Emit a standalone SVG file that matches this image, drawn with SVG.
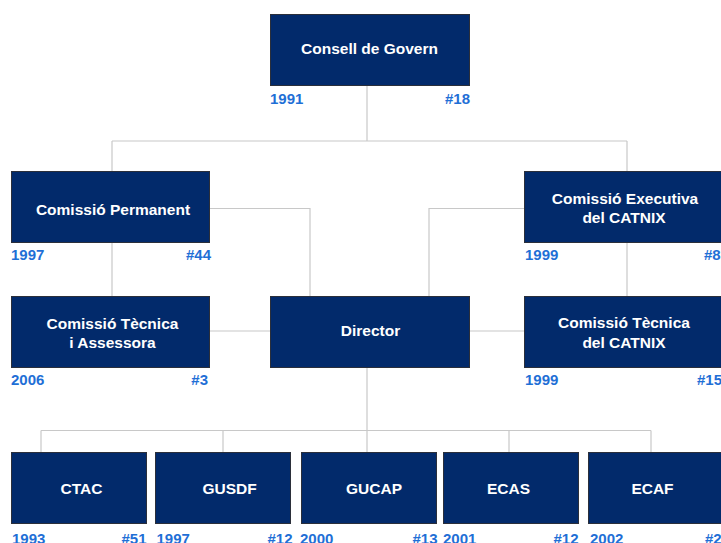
<svg xmlns="http://www.w3.org/2000/svg" width="721" height="543" viewBox="0 0 721 543">
<style>
.box{fill:#022a6b;stroke:#2b2f3a;stroke-width:1}
.t{font-family:"Liberation Sans",Arial,sans-serif;font-size:15.5px;font-weight:bold;fill:#ffffff;text-anchor:middle}
.y{font-family:"Liberation Sans",Arial,sans-serif;font-size:15px;font-weight:bold;fill:#1f6fd6}
.r{text-anchor:end}
.c{fill:none;stroke:#c8c8c8;stroke-width:1.2}
</style>
<rect width="721" height="543" fill="#ffffff"/>
<g id="connectors">
<path class="c" d="M367 85V141M112 141H627M112 141V171M627 141V171"/>
<path class="c" d="M112 242V296M209 208.5H310V296M209 331H270"/>
<path class="c" d="M524 208.5H429V296M627 242V296M469 331H524"/>
<path class="c" d="M367 367V430.5M41 430.5H651M41 430.5V452M223 430.5V452M367 430.5V452M509 430.5V452M651 430.5V452"/>
</g>
<g id="consell">
<rect class="box" x="270.5" y="14.5" width="199" height="71"/>
<text class="t" x="369.5" y="54">Consell de Govern</text>
<text class="y" x="270" y="104">1991</text>
<text class="y r" x="470" y="104">#18</text>
</g>
<g id="permanent">
<rect class="box" x="11.5" y="171.5" width="198" height="71"/>
<text class="t" x="113" y="215">Comissió Permanent</text>
<text class="y" x="11" y="260">1997</text>
<text class="y r" x="211" y="260">#44</text>
</g>
<g id="executiva">
<rect class="box" x="524.5" y="171.5" width="199" height="71"/>
<text class="t" x="625" y="204">Comissió Executiva</text>
<text class="t" x="624" y="223">del CATNIX</text>
<text class="y" x="525" y="260">1999</text>
<text class="y" x="704" y="260">#8</text>
</g>
<g id="tecnica-assessora">
<rect class="box" x="11.5" y="296.5" width="198" height="71"/>
<text class="t" x="112.5" y="329">Comissió Tècnica</text>
<text class="t" x="112.5" y="348">i Assessora</text>
<text class="y" x="11" y="385">2006</text>
<text class="y r" x="208" y="385">#3</text>
</g>
<g id="director">
<rect class="box" x="270.5" y="296.5" width="199" height="71"/>
<text class="t" x="370.5" y="336">Director</text>
</g>
<g id="tecnica-catnix">
<rect class="box" x="524.5" y="296.5" width="199" height="71"/>
<text class="t" x="624" y="328">Comissió Tècnica</text>
<text class="t" x="624" y="347.5">del CATNIX</text>
<text class="y" x="525" y="385">1999</text>
<text class="y" x="697" y="385">#15</text>
</g>
<g id="ctac">
<rect class="box" x="11.5" y="452.5" width="135" height="71"/>
<text class="t" x="81.5" y="494">CTAC</text>
<text class="y" x="12" y="543.5">1993</text>
<text class="y r" x="146.5" y="543.5">#51</text>
</g>
<g id="gusdf">
<rect class="box" x="155.5" y="452.5" width="135" height="71"/>
<text class="t" x="229.5" y="494">GUSDF</text>
<text class="y" x="156.5" y="543.5">1997</text>
<text class="y r" x="292.5" y="543.5">#12</text>
</g>
<g id="gucap">
<rect class="box" x="301.5" y="452.5" width="135" height="71"/>
<text class="t" x="374" y="494">GUCAP</text>
<text class="y" x="300" y="543.5">2000</text>
<text class="y r" x="437.5" y="543.5">#13</text>
</g>
<g id="ecas">
<rect class="box" x="443.5" y="452.5" width="135" height="71"/>
<text class="t" x="508.5" y="494">ECAS</text>
<text class="y" x="443" y="543.5">2001</text>
<text class="y r" x="578.5" y="543.5">#12</text>
</g>
<g id="ecaf">
<rect class="box" x="588.5" y="452.5" width="135" height="71"/>
<text class="t" x="652.5" y="494">ECAF</text>
<text class="y" x="590" y="543.5">2002</text>
<text class="y" x="705" y="543.5">#2</text>
</g>
</svg>
